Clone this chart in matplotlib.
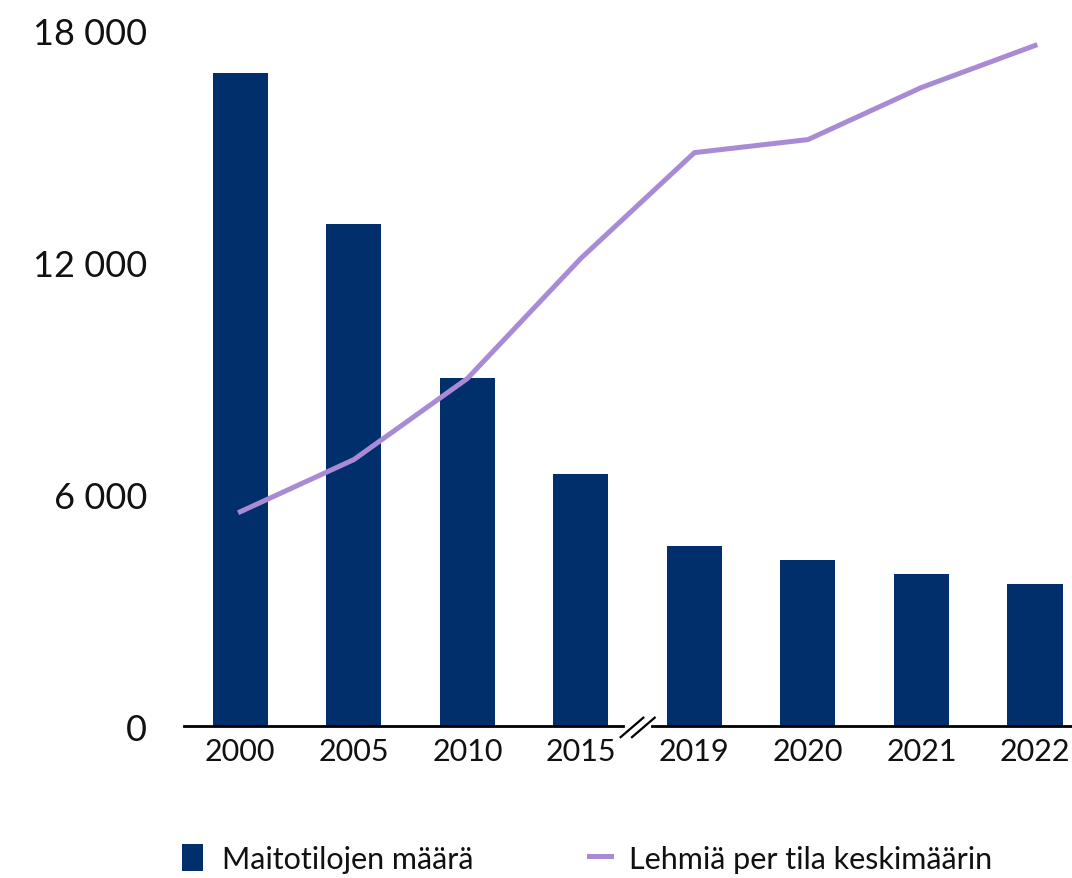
import matplotlib
matplotlib.use("Agg")
import matplotlib.pyplot as plt
import numpy as np
from matplotlib.patches import Patch
from matplotlib.lines import Line2D

plt.rcParams["font.family"] = ["Lato", "DejaVu Sans"]

YEARS = ["2000", "2005", "2010", "2015", "2019", "2020", "2021", "2022"]
FARMS = [16917, 13005, 9016, 6528, 4663, 4300, 3938, 3679]          # Maitotilojen määrä
COWS = [14.8, 18.4, 24.0, 32.3, 39.6, 40.5, 44.1, 47.0]              # Lehmiä per tila keskimäärin
YTICKS = [0, 6000, 12000, 18000]
YTICKLABELS = ["0", "6 000", "12 000", "18 000"]

BAR_C = "#002f6c"
LINE_C = "#a88bd4"

fig = plt.figure(figsize=(10.72, 8.79), dpi=100)
ax = fig.add_axes([0.172, 0.1729, 0.828, 0.7907])
xs = np.arange(len(YEARS))
ax.bar(xs, FARMS, 0.485, color=BAR_C, zorder=2)
ax.set_xlim(-0.493, 7.326)
ax.set_ylim(0, 18000)
ax.set_yticks(YTICKS)
ax.set_yticklabels(YTICKLABELS, fontsize=26, color="#111111")
ax.set_xticks(xs)
ax.set_xticklabels(YEARS, fontsize=22, color="#111111")
ax.tick_params(axis="y", length=0, pad=27)
ax.tick_params(axis="x", length=0, pad=8)
for s in ax.spines.values():
    s.set_visible(False)

# broken baseline with // mark between 2015 and 2019
gap = 0.13
tr = ax.get_xaxis_transform()
ax.plot([-0.493, 3.5 - gap], [0, 0], color="black", lw=2, transform=tr, clip_on=False, zorder=3)
ax.plot([3.5 + gap, 7.326], [0, 0], color="black", lw=2, transform=tr, clip_on=False, zorder=3)
for dx in (-0.05, 0.05):
    ax.plot([3.5 + dx - 0.1, 3.5 + dx + 0.1], [-0.016, 0.012], color="black", lw=1.6,
            transform=tr, clip_on=False, zorder=3)

ax2 = ax.twinx()
ax2.plot(xs, COWS, color=LINE_C, lw=3.6, zorder=4)
ax2.set_ylim(0, 48)
ax2.set_yticks([])
for s in ax2.spines.values():
    s.set_visible(False)

handles = [Patch(facecolor=BAR_C), Line2D([0], [0], color=LINE_C, lw=3.6)]
leg = fig.legend(handles, ["Maitotilojen määrä", "Lehmiä per tila keskimäärin"], ncol=2,
                 loc="center left", bbox_to_anchor=(0.144, 0.022), frameon=False, fontsize=22,
                 handlelength=0.7, handleheight=1.0, handletextpad=0.6, columnspacing=3.8)
for t in leg.get_texts():
    t.set_color("#111111")

fig.savefig("out.png", dpi=100)
